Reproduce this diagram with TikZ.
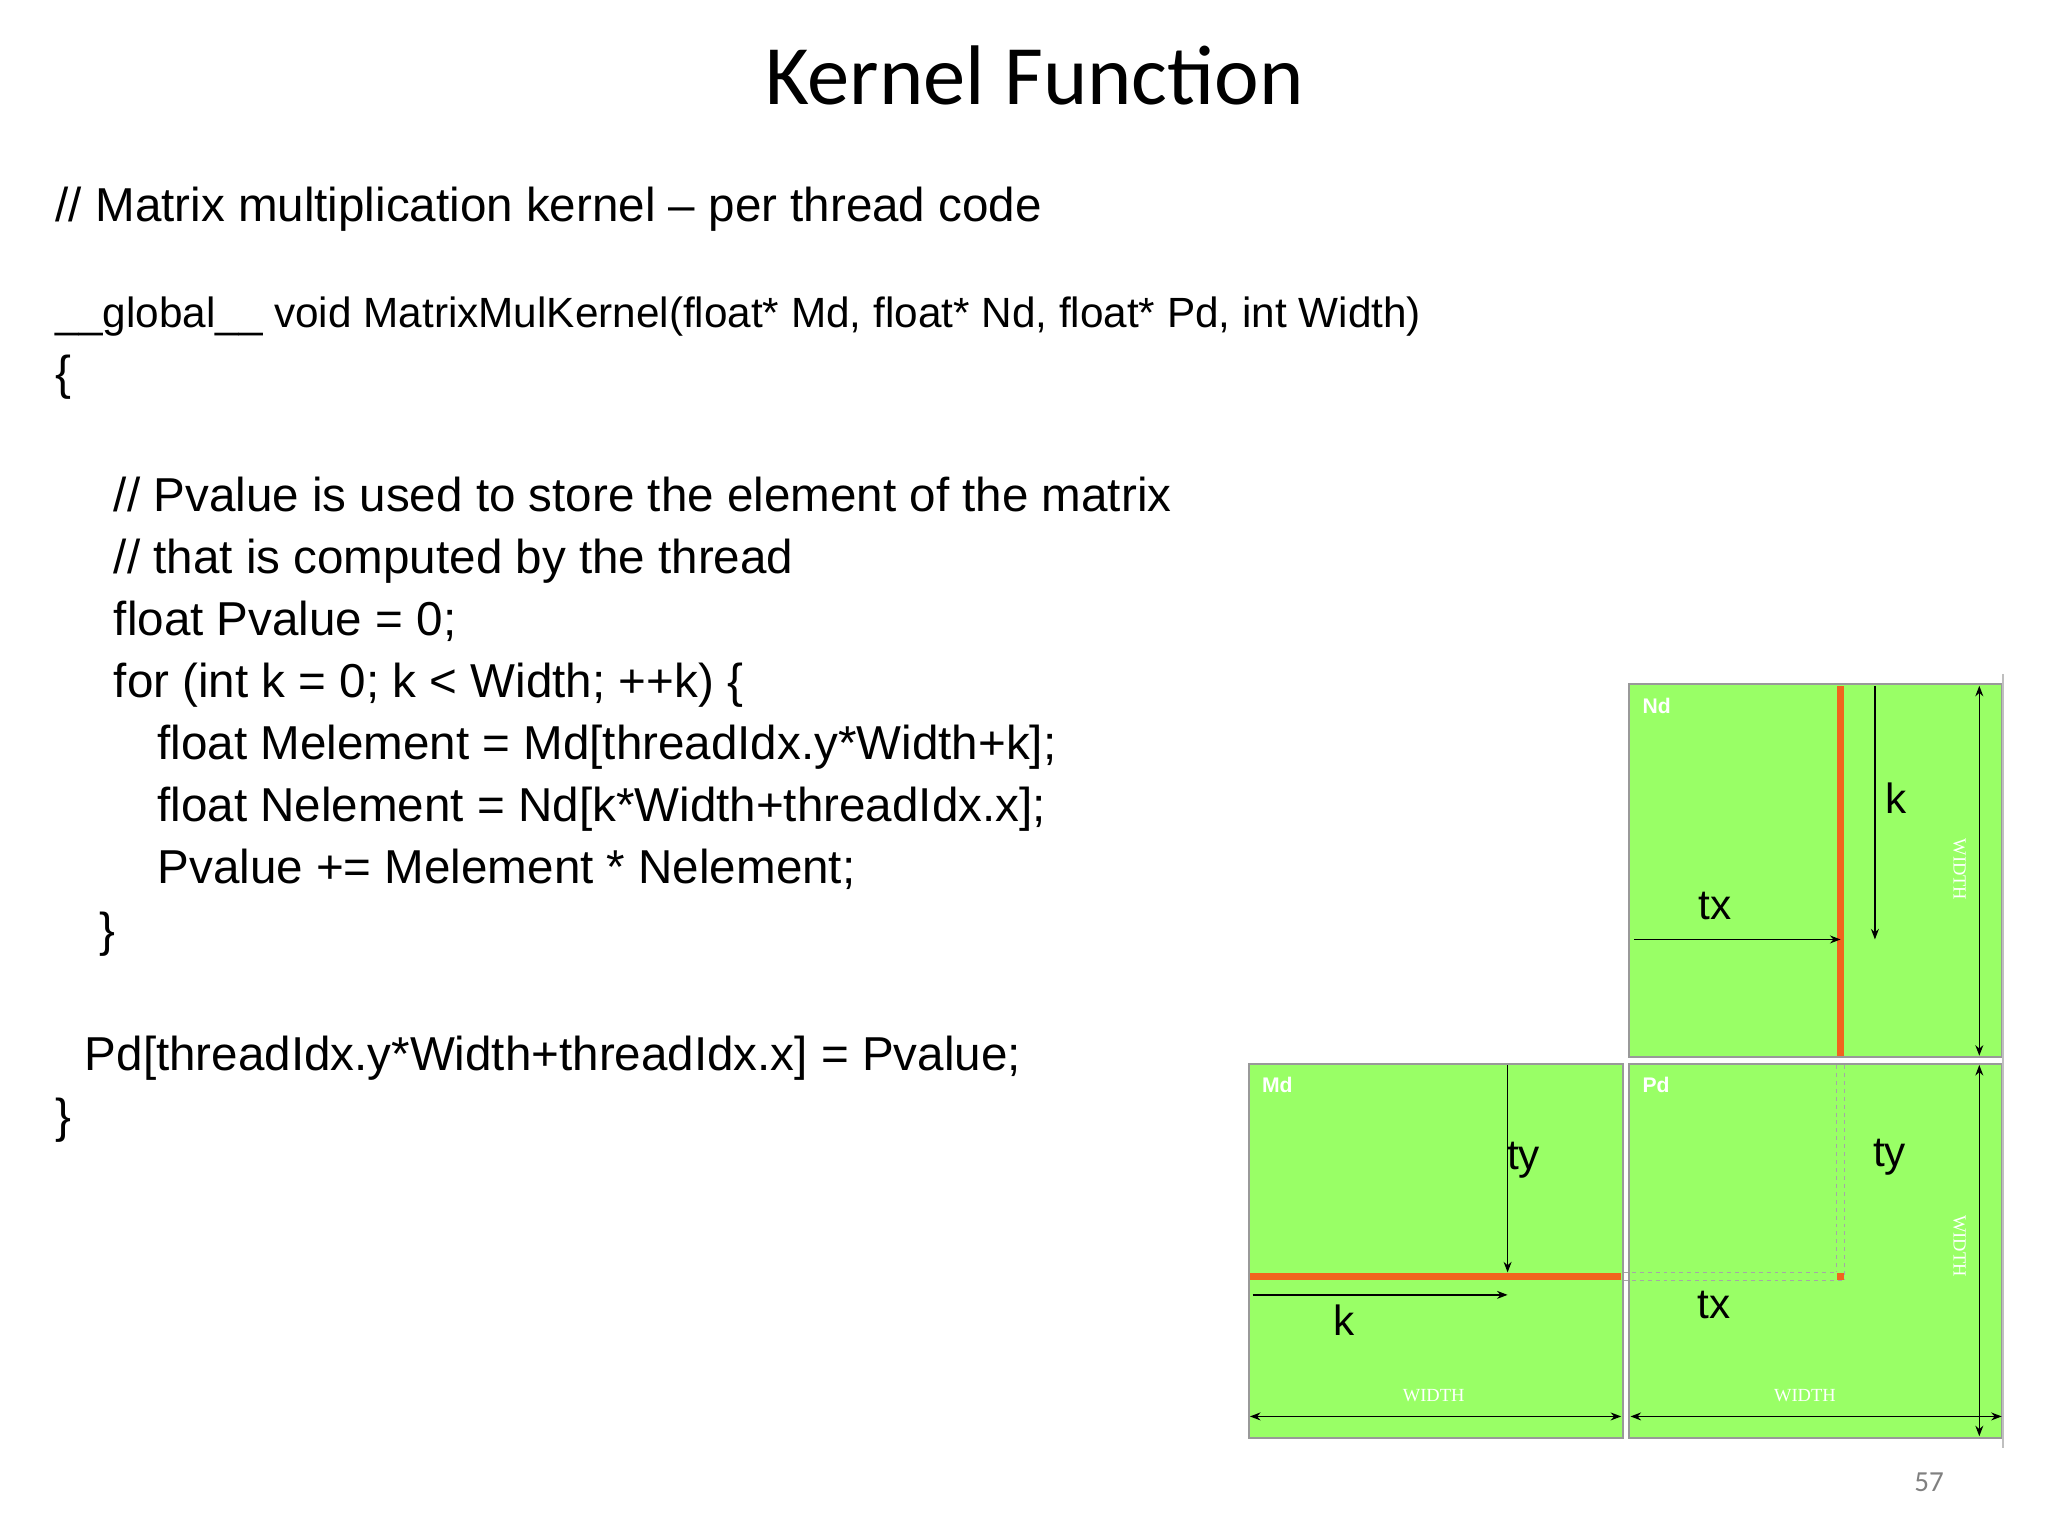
\documentclass[tikz,border=0pt]{standalone}
\usepackage{fontspec}
\setmainfont{Liberation Sans}
\newfontfamily\titlefont{Carlito}
\newfontfamily\serifw{Liberation Serif}
\usetikzlibrary{arrows.meta}
\definecolor{mgreen}{RGB}{153,255,102}
\definecolor{morange}{RGB}{240,100,30}
\tikzset{
 code/.style={anchor=base west,inner sep=0pt,font=\fontsize{36}{40}\selectfont},
 mat/.style={draw=gray!80,line width=1.5pt,fill=mgreen},
 mname/.style={anchor=west,inner sep=0pt,text=white,font=\fontsize{16}{18}\selectfont\bfseries},
 lbl/.style={inner sep=0pt,font=\fontsize{32}{34}\selectfont},
 wlbl/.style={inner sep=0pt,text=white,font=\fontsize{14}{16}\selectfont\serifw},
 arr/.style={line width=1.2pt,-{Stealth[length=8pt,width=6pt]}},
 darr/.style={line width=1.2pt,{Stealth[length=8pt,width=6pt]}-{Stealth[length=8pt,width=6pt]}},
 dsh/.style={gray!70,dashed,line width=1.2pt},
}
\begin{document}
\begin{tikzpicture}[x=1pt,y=-1pt]
\useasboundingbox (0,0) rectangle (1550,1162.5);
\node[inner sep=0pt,font=\titlefont\fontsize{64}{70}\selectfont] (title) at (783,57) {Kernel Function};
\node[code] (c1) at (42,168) {// Matrix multiplication kernel -- per thread code};
\node[code,font=\fontsize{32}{36}\selectfont] (c2) at (42,248) {\_\_global\_\_ void MatrixMulKernel(float* Md, float* Nd, float* Pd, int Width)};
\node[code] (c3) at (42,295) {\{};
\node[code] (c4) at (86,387) {// Pvalue is used to store the element of the matrix};
\node[code] (c5) at (86,434) {// that is computed by the thread};
\node[code] (c6) at (86,481) {float Pvalue = 0;};
\node[code] (c7) at (86,528) {for (int k = 0; k < Width; ++k) \{};
\node[code] (c8) at (119,575) {float Melement = Md[threadIdx.y*Width+k];};
\node[code] (c9) at (119,622) {float Nelement = Nd[k*Width+threadIdx.x];};
\node[code] (c10) at (119,669) {Pvalue += Melement * Nelement;};
\node[code] (c11) at (75,716) {\}};
\node[code] (c12) at (64,810) {Pd[threadIdx.y*Width+threadIdx.x] = Pvalue;};
\node[code] (c13) at (42,857) {\}};
% matrices
\draw[mat] (1233,518) rectangle (1515,800);
\draw[mat] (945,805) rectangle (1228,1088);
\draw[mat] (1233,805) rectangle (1515,1088);
\draw[gray!50,line width=1pt] (1516,510) -- (1516,1096);
\node[mname] (nd) at (1243,534) {Nd};
\node[mname] (md) at (955,821) {Md};
\node[mname] (pd) at (1243,821) {Pd};
% orange strips
\fill[morange] (1390.5,519) rectangle (1395.5,799);
\fill[morange] (946,963.5) rectangle (1227,968.5);
\draw[dsh] (1390,806) -- (1390,963) (1396,806) -- (1396,969);
\draw[dsh] (1229,963) -- (1390,963) (1229,969) -- (1396,969);
\fill[morange] (1390.5,963.5) rectangle (1395.5,968.5);
% Nd arrows
\coordinate (txs) at (1237,711); \coordinate (txe) at (1393,711);
\draw[arr] (txs) -- (txe);
\node[lbl] (tx1) at (1298,686) {tx};
\coordinate (ks) at (1419,519); \coordinate (ke) at (1419,711);
\draw[arr] (ks) -- (ke);
\node[lbl] (k1) at (1435,604) {k};
\coordinate (w1a) at (1498,519); \coordinate (w1b) at (1498,799);
\draw[darr] (w1a) -- (w1b);
\node[wlbl,rotate=-90] (w1) at (1483,658) {WIDTH};
% Md arrows
\coordinate (tys) at (1141,806); \coordinate (tye) at (1141,963);
\draw[arr] (tys) -- (tye);
\node[lbl] (ty1) at (1153,878) {ty};
\coordinate (k2s) at (948,980); \coordinate (k2e) at (1141,980);
\draw[arr] (k2s) -- (k2e);
\node[lbl] (k2) at (1017,999) {k};
\coordinate (w2a) at (946,1072); \coordinate (w2b) at (1227,1072);
\draw[darr] (w2a) -- (w2b);
\node[wlbl] (w2) at (1085,1056) {WIDTH};
% Pd
\node[lbl] (ty2) at (1430,876) {ty};
\node[lbl] (tx2) at (1297,988) {tx};
\coordinate (w3a) at (1234,1072); \coordinate (w3b) at (1515,1072);
\draw[darr] (w3a) -- (w3b);
\node[wlbl] (w3) at (1366,1056) {WIDTH};
\coordinate (w4a) at (1498,806); \coordinate (w4b) at (1498,1087);
\draw[darr] (w4a) -- (w4b);
\node[wlbl,rotate=-90] (w4) at (1483,943) {WIDTH};
\node[inner sep=0pt,text=gray,font=\titlefont\fontsize{22}{24}\selectfont] (pg) at (1460,1122) {57};
\end{tikzpicture}
\end{document}
